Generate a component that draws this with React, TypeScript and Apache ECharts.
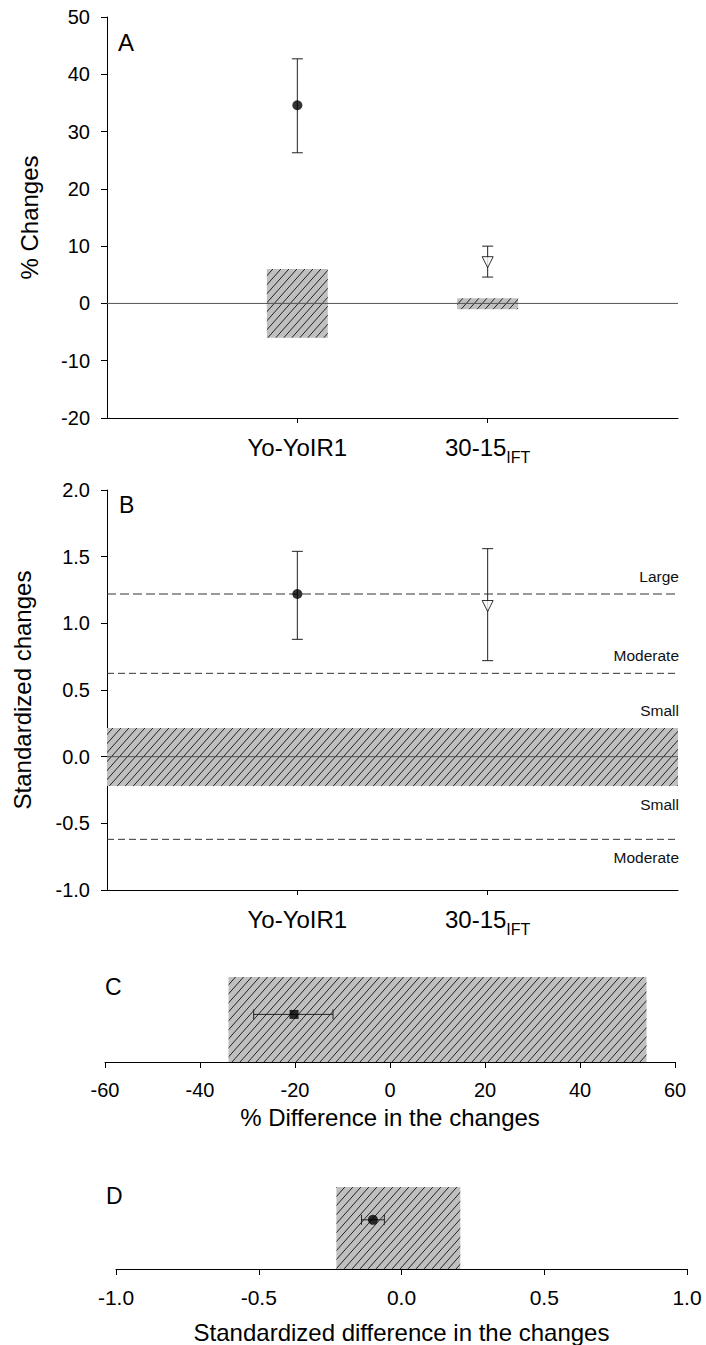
import React, { useEffect, useRef } from 'react';
import * as echarts from 'echarts';

const FONT = '"Liberation Sans", Arial, Helvetica, sans-serif';

// ---------- Panel A : % changes ----------
const categories = ['Yo-YoIR1', '30-15'];
const categorySubscripts = ['', 'IFT'];
const categoryX = [1, 2];
const aMean = [34.6, 7.2];
const aUpper = [42.7, 10.0];
const aLower = [26.3, 4.6];
const aSwcUpper = [6.0, 0.9];
const aSwcLower = [-6.0, -1.0];
const aMarkers = ['circle', 'triangle'];

// ---------- Panel B : standardized changes ----------
const bMean = [1.22, 1.13];
const bUpper = [1.54, 1.56];
const bLower = [0.88, 0.72];
const bMarkers = ['circle', 'triangle'];
const bSmallBand = [-0.22, 0.215];
const bThresholds = [1.22, 0.625, -0.62];
const bZoneLabels = ['Large', 'Moderate', 'Small', 'Small', 'Moderate'];
const bZoneEdges = [1.22, 0.625, 0.215, -0.22, -0.62];
const bZoneSides = [1, 1, 1, -1, -1]; // 1 = label above edge, -1 = below

// ---------- Panel C : % difference in the changes ----------
const cMean = [-20.2];
const cLower = [-28.7];
const cUpper = [-12.0];
const cRow = [0.56];
const cSwc = [-34, 54];

// ---------- Panel D : standardized difference ----------
const dMean = [-0.1];
const dLower = [-0.14];
const dUpper = [-0.06];
const dRow = [0.6];
const dSwc = [-0.228, 0.206];

const BOX_HALF = 0.16;

function makeHatch(): any {
  const w = 8;
  const h = 9;
  const c = document.createElement('canvas');
  c.width = w;
  c.height = h;
  const ctx = c.getContext('2d')!;
  ctx.fillStyle = '#c0c0c0';
  ctx.fillRect(0, 0, w, h);
  ctx.strokeStyle = '#111';
  ctx.lineWidth = 0.9;
  ctx.beginPath();
  ctx.moveTo(0, h);
  ctx.lineTo(w, 0);
  ctx.moveTo(-w, h);
  ctx.lineTo(0, 0);
  ctx.moveTo(w, h);
  ctx.lineTo(2 * w, 0);
  ctx.stroke();
  return { image: c.toDataURL(), repeat: 'repeat', imageWidth: w, imageHeight: h };
}

const axisLineStyle = { color: '#000', width: 1 };

const catFormatter = (v: number) => {
  const i = categoryX.indexOf(v);
  if (i < 0) return '';
  return categorySubscripts[i] ? `{a|${categories[i]}}{s|${categorySubscripts[i]}}` : `{a|${categories[i]}}`;
};

const catRich = {
  a: { fontSize: 24, lineHeight: 24, fontFamily: FONT, color: '#000', verticalAlign: 'top' },
  s: { fontSize: 16, lineHeight: 16, fontFamily: FONT, color: '#000', verticalAlign: 'top', padding: [14, 0, 0, 0] },
};

function vErrRender(capHalf: number) {
  return (params: any, api: any) => {
    const x = api.value(0);
    const top = api.coord([x, api.value(2)]);
    const bot = api.coord([x, api.value(1)]);
    const style = { stroke: '#222', lineWidth: 1 };
    return {
      type: 'group',
      children: [
        { type: 'line', shape: { x1: top[0], y1: top[1], x2: bot[0], y2: bot[1] }, style },
        { type: 'line', shape: { x1: top[0] - capHalf, y1: top[1], x2: top[0] + capHalf, y2: top[1] }, style },
        { type: 'line', shape: { x1: bot[0] - capHalf, y1: bot[1], x2: bot[0] + capHalf, y2: bot[1] }, style },
      ],
    };
  };
}

function hErrRender(capHalf: number) {
  return (params: any, api: any) => {
    const y = api.value(2);
    const l = api.coord([api.value(0), y]);
    const r = api.coord([api.value(1), y]);
    const style = { stroke: '#222', lineWidth: 1 };
    return {
      type: 'group',
      children: [
        { type: 'line', shape: { x1: l[0], y1: l[1], x2: r[0], y2: r[1] }, style },
        { type: 'line', shape: { x1: l[0], y1: l[1] - capHalf, x2: l[0], y2: l[1] + capHalf }, style },
        { type: 'line', shape: { x1: r[0], y1: r[1] - capHalf, x2: r[0], y2: r[1] + capHalf }, style },
      ],
    };
  };
}

function hLineRender(color: string, dashes: any[]) {
  return (params: any, api: any) => {
    const cs = params.coordSys;
    const y = api.coord([0, api.value(0)])[1];
    return {
      type: 'line',
      shape: { x1: cs.x, y1: y, x2: cs.x + cs.width, y2: y },
      style: { stroke: color, lineWidth: 1, lineDash: dashes[params.dataIndex] || null },
    };
  };
}

function markerData(xs: number[], ys: number[], kinds: string[]) {
  return xs.map((x, i) => ({
    value: [x, ys[i]],
    symbol: kinds[i],
    symbolRotate: kinds[i] === 'triangle' ? 180 : 0,
    symbolSize: kinds[i] === 'triangle' ? 11 : 10,
    itemStyle:
      kinds[i] === 'triangle'
        ? { color: '#fff', borderColor: '#000', borderWidth: 1 }
        : { color: '#000', borderColor: '#000', borderWidth: 0 },
  }));
}

export default function App() {
  const ref = useRef<HTMLDivElement>(null);

  useEffect(() => {
    document.body.style.margin = '0';
    if (!ref.current) return;
    const chart = echarts.init(ref.current, null, { renderer: 'svg' });
    const hatch = makeHatch();

    const textCommon = { fontFamily: FONT, color: '#000' };
    const boxRender = (params: any, api: any) => {
      const p1 = api.coord([api.value(0), 1]);
      const p2 = api.coord([api.value(1), 0]);
      return { type: 'rect', shape: { x: p1[0], y: p1[1], width: p2[0] - p1[0], height: p2[1] - p1[1] }, style: { fill: hatch } };
    };

    const option: any = {
      animation: false,
      backgroundColor: '#fff',
      textStyle: { fontFamily: FONT },
      grid: [
        { left: 107, top: 17, width: 571, height: 401 },
        { left: 107, top: 490, width: 571, height: 400 },
        { left: 105, top: 977, width: 570, height: 85 },
        { left: 116, top: 1187, width: 571, height: 85 },
      ],
      xAxis: [
        {
          gridIndex: 0, type: 'value', min: 0, max: 3,
          axisLine: { show: true, onZero: false, lineStyle: axisLineStyle },
          axisTick: { show: true, customValues: categoryX, length: 5, lineStyle: axisLineStyle },
          axisLabel: { customValues: categoryX, formatter: catFormatter, margin: 17, rich: catRich },
          splitLine: { show: false },
        },
        {
          gridIndex: 1, type: 'value', min: 0, max: 3,
          axisLine: { show: true, onZero: false, lineStyle: axisLineStyle },
          axisTick: { show: true, customValues: categoryX, length: 5, lineStyle: axisLineStyle },
          axisLabel: { customValues: categoryX, formatter: catFormatter, margin: 17, rich: catRich },
          splitLine: { show: false },
        },
        {
          gridIndex: 2, type: 'value', min: -60, max: 60, interval: 20,
          axisLine: { show: true, onZero: false, lineStyle: axisLineStyle },
          axisTick: { show: true, length: 6, lineStyle: axisLineStyle },
          axisLabel: { ...textCommon, fontSize: 20, margin: 18 },
          splitLine: { show: false },
          name: '% Difference in the changes', nameLocation: 'middle', nameGap: 43,
          nameTextStyle: { ...textCommon, fontSize: 24 },
        },
        {
          gridIndex: 3, type: 'value', min: -1, max: 1, interval: 0.5,
          axisLine: { show: true, onZero: false, lineStyle: axisLineStyle },
          axisTick: { show: true, length: 6, lineStyle: axisLineStyle },
          axisLabel: { ...textCommon, fontSize: 21, margin: 18, formatter: (v: number) => v.toFixed(1) },
          splitLine: { show: false },
          name: 'Standardized difference in the changes', nameLocation: 'middle', nameGap: 51,
          nameTextStyle: { ...textCommon, fontSize: 24 },
        },
      ],
      yAxis: [
        {
          gridIndex: 0, type: 'value', min: -20, max: 50, interval: 10,
          axisLine: { show: true, onZero: false, lineStyle: axisLineStyle },
          axisTick: { show: true, length: 6, lineStyle: axisLineStyle },
          axisLabel: { ...textCommon, fontSize: 20, margin: 17 },
          splitLine: { show: false },
          name: '% Changes', nameLocation: 'middle', nameGap: 66,
          nameTextStyle: { ...textCommon, fontSize: 24 },
        },
        {
          gridIndex: 1, type: 'value', min: -1, max: 2, interval: 0.5,
          axisLine: { show: true, onZero: false, lineStyle: axisLineStyle },
          axisTick: { show: true, length: 6, lineStyle: axisLineStyle },
          axisLabel: { ...textCommon, fontSize: 20, margin: 17, formatter: (v: number) => v.toFixed(1) },
          splitLine: { show: false },
          name: 'Standardized changes', nameLocation: 'middle', nameGap: 73,
          nameTextStyle: { ...textCommon, fontSize: 24 },
        },
        { gridIndex: 2, type: 'value', min: 0, max: 1, show: false },
        { gridIndex: 3, type: 'value', min: 0, max: 1, show: false },
      ],
      graphic: [
        { type: 'text', left: 118, top: 30, style: { text: 'A', fontSize: 24, fontFamily: FONT, fill: '#000' } },
        { type: 'text', left: 119, top: 493, style: { text: 'B', fontSize: 23, fontFamily: FONT, fill: '#000' } },
        { type: 'text', left: 105, top: 975, style: { text: 'C', fontSize: 23, fontFamily: FONT, fill: '#000' } },
        { type: 'text', left: 106, top: 1184, style: { text: 'D', fontSize: 23, fontFamily: FONT, fill: '#000' } },
      ],
      series: [
        // ----- A -----
        {
          type: 'custom', xAxisIndex: 0, yAxisIndex: 0, z: 1,
          data: categoryX.map((x, i) => [x, aSwcLower[i], aSwcUpper[i]]),
          renderItem: (params: any, api: any) => {
            const x = api.value(0);
            const p1 = api.coord([x - BOX_HALF, api.value(2)]);
            const p2 = api.coord([x + BOX_HALF, api.value(1)]);
            return { type: 'rect', shape: { x: p1[0], y: p1[1], width: p2[0] - p1[0], height: p2[1] - p1[1] }, style: { fill: hatch } };
          },
        },
        {
          type: 'custom', xAxisIndex: 0, yAxisIndex: 0, z: 2,
          data: [[0]],
          renderItem: hLineRender('#555', [null]),
        },
        {
          type: 'custom', xAxisIndex: 0, yAxisIndex: 0, z: 3,
          data: categoryX.map((x, i) => [x, aLower[i], aUpper[i]]),
          renderItem: vErrRender(5.5),
        },
        {
          type: 'scatter', xAxisIndex: 0, yAxisIndex: 0, z: 4,
          data: markerData(categoryX, aMean, aMarkers),
        },
        // ----- B -----
        {
          type: 'custom', xAxisIndex: 1, yAxisIndex: 1, z: 1,
          data: [[bSmallBand[0], bSmallBand[1]]],
          renderItem: (params: any, api: any) => {
            const cs = params.coordSys;
            const yTop = api.coord([0, api.value(1)])[1];
            const yBot = api.coord([0, api.value(0)])[1];
            return { type: 'rect', shape: { x: cs.x, y: yTop, width: cs.width, height: yBot - yTop }, style: { fill: hatch } };
          },
        },
        {
          type: 'custom', xAxisIndex: 1, yAxisIndex: 1, z: 2,
          data: [[0]],
          renderItem: hLineRender('#555', [null]),
        },
        {
          type: 'custom', xAxisIndex: 1, yAxisIndex: 1, z: 2,
          data: bThresholds.map((v) => [v]),
          renderItem: hLineRender('#333', [[9, 4], [7, 4], [7, 4]]),
        },
        {
          type: 'custom', xAxisIndex: 1, yAxisIndex: 1, z: 3,
          data: categoryX.map((x, i) => [x, bLower[i], bUpper[i]]),
          renderItem: vErrRender(5.5),
        },
        {
          type: 'scatter', xAxisIndex: 1, yAxisIndex: 1, z: 4,
          data: markerData(categoryX, bMean, bMarkers),
        },
        {
          type: 'custom', xAxisIndex: 1, yAxisIndex: 1, z: 5,
          data: bZoneEdges.map((v, i) => [v, bZoneSides[i]]),
          renderItem: (params: any, api: any) => {
            const cs = params.coordSys;
            const y = api.coord([0, api.value(0)])[1] - api.value(1) * 18;
            return {
              type: 'text',
              x: cs.x + cs.width + 1,
              y,
              style: {
                text: bZoneLabels[params.dataIndex],
                fontSize: 15.5, fontFamily: FONT, fill: '#111',
                align: 'right', verticalAlign: 'middle',
              },
            };
          },
        },
        // ----- C -----
        {
          type: 'custom', xAxisIndex: 2, yAxisIndex: 2, z: 1,
          data: [[cSwc[0], cSwc[1]]],
          renderItem: boxRender,
        },
        {
          type: 'custom', xAxisIndex: 2, yAxisIndex: 2, z: 3,
          data: cMean.map((_, i) => [cLower[i], cUpper[i], cRow[i]]),
          renderItem: hErrRender(5),
        },
        {
          type: 'scatter', xAxisIndex: 2, yAxisIndex: 2, z: 4,
          symbol: 'rect', symbolSize: 9,
          itemStyle: { color: '#000' },
          data: cMean.map((m, i) => [m, cRow[i]]),
        },
        // ----- D -----
        {
          type: 'custom', xAxisIndex: 3, yAxisIndex: 3, z: 1,
          data: [[dSwc[0], dSwc[1]]],
          renderItem: boxRender,
        },
        {
          type: 'custom', xAxisIndex: 3, yAxisIndex: 3, z: 3,
          data: dMean.map((_, i) => [dLower[i], dUpper[i], dRow[i]]),
          renderItem: hErrRender(5),
        },
        {
          type: 'scatter', xAxisIndex: 3, yAxisIndex: 3, z: 4,
          symbol: 'circle', symbolSize: 10,
          itemStyle: { color: '#000' },
          data: dMean.map((m, i) => [m, dRow[i]]),
        },
      ],
    };

    chart.setOption(option);
    return () => chart.dispose();
  }, []);

  return <div ref={ref} style={{ width: 706, height: 1345 }} />;
}
